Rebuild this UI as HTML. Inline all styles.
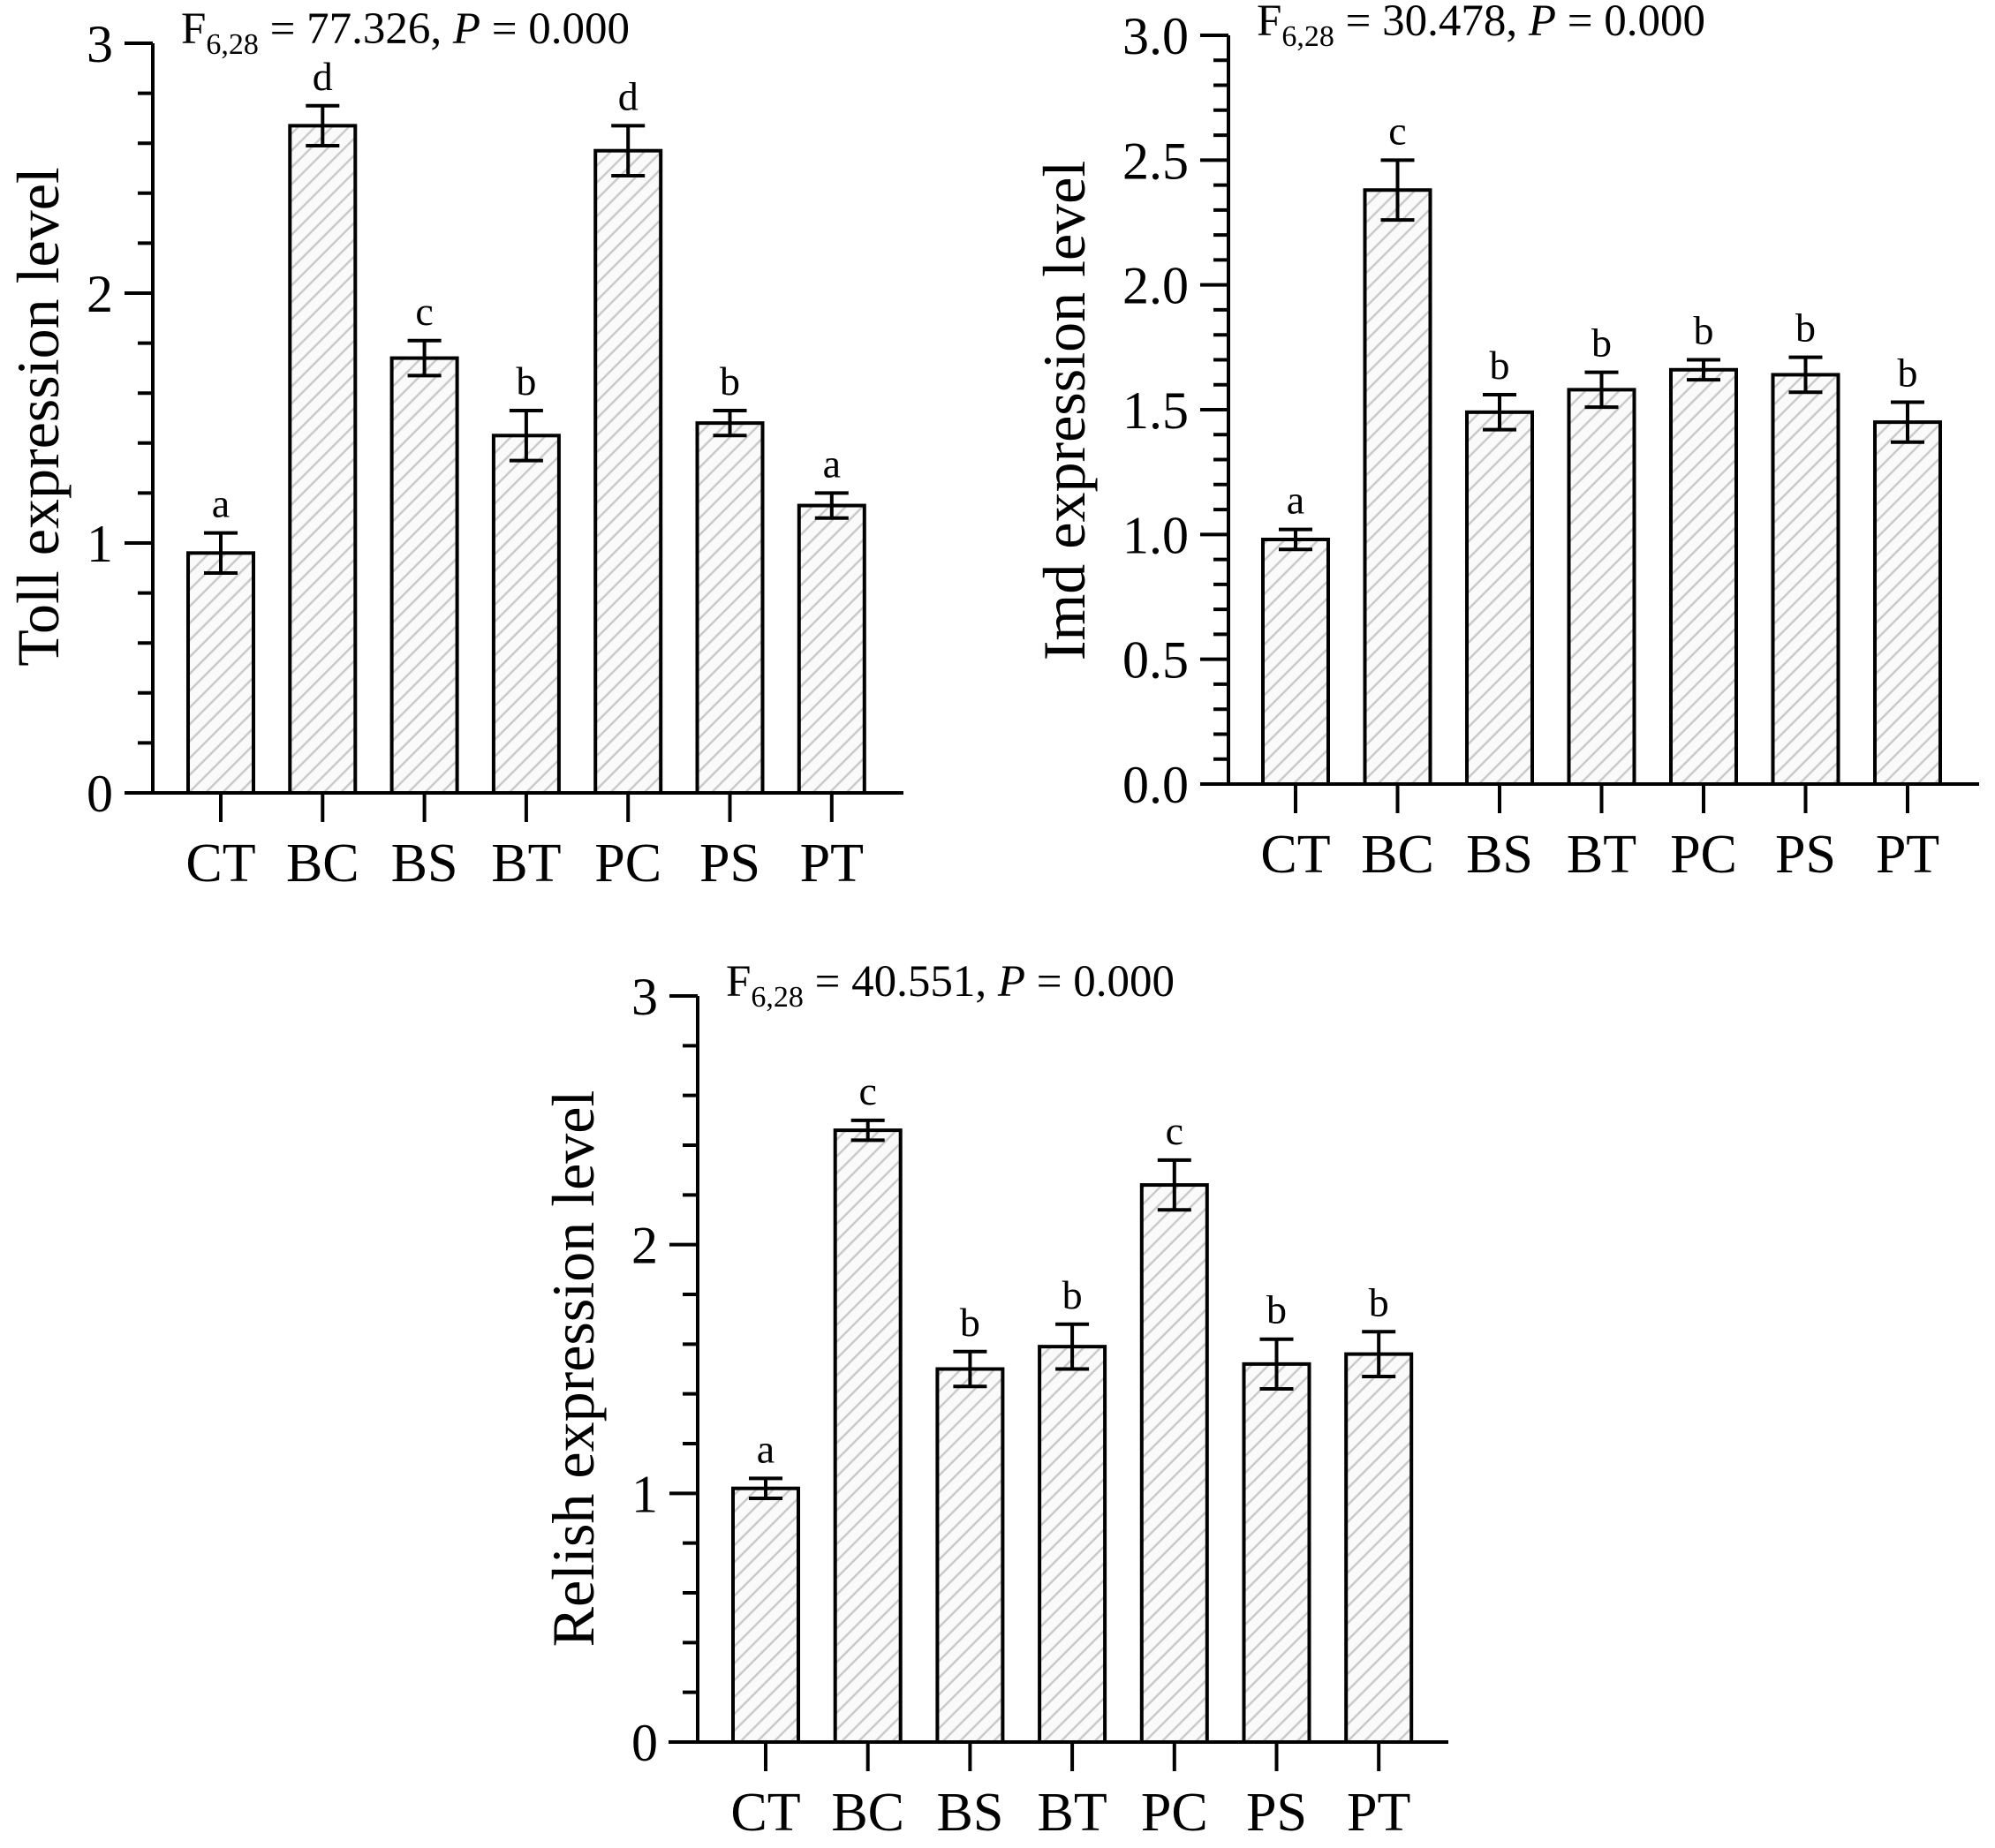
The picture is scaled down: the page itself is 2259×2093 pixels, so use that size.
<!DOCTYPE html>
<html><head><meta charset="utf-8"><style>
html,body{margin:0;padding:0;background:#fff}
svg{display:block;font-family:"Liberation Serif",serif}
</style></head><body>
<svg id="fig" width="2259" height="2093" viewBox="0 0 2259 2093" xmlns="http://www.w3.org/2000/svg">
<defs>
<pattern id="hatch" patternUnits="userSpaceOnUse" width="13.5" height="13.5" patternTransform="rotate(45)">
<rect width="13.5" height="13.5" fill="#fafafa"/>
<line x1="3" y1="0" x2="3" y2="13.5" stroke="#c8c8c8" stroke-width="2.4"/>
</pattern>
</defs>
</svg>
<script>
const categories = ["CT","BC","BS","BT","PC","PS","PT"];
const tollValues = [0.96,2.67,1.74,1.43,2.57,1.48,1.15];
const tollErrors = [0.08,0.08,0.07,0.10,0.10,0.05,0.05];
const tollLetters = ["a","d","c","b","d","b","a"];
const tollTicks = ["0","1","2","3"];
const imdValues = [0.98,2.38,1.49,1.58,1.66,1.64,1.45];
const imdErrors = [0.04,0.12,0.07,0.07,0.04,0.07,0.08];
const imdLetters = ["a","c","b","b","b","b","b"];
const imdTicks = ["0.0","0.5","1.0","1.5","2.0","2.5","3.0"];
const relValues = [1.02,2.46,1.50,1.59,2.24,1.52,1.56];
const relErrors = [0.04,0.04,0.07,0.09,0.10,0.10,0.09];
const relLetters = ["a","c","b","b","c","b","b"];
const relTicks = ["0","1","2","3"];

const NS="http://www.w3.org/2000/svg";
const svg=document.getElementById('fig');
function mk(tag,attrs,parent){const e=document.createElementNS(NS,tag);for(const k in attrs)e.setAttribute(k,attrs[k]);(parent||svg).appendChild(e);return e;}

function chart(cfg){
  const g=mk('g',{});
  
  
  const y=v=>cfg.y0-(v/cfg.ymax)*(cfg.y0-cfg.y3);
  const x=i=>cfg.cx0+i*cfg.step;
  cfg.values.forEach((v,i)=>{
    const r=mk('rect',{x:x(i)-37,y:y(v),width:74,height:cfg.y0-y(v),fill:'url(#hatch)',stroke:'#000','stroke-width':4},g);
    
    
    const e=cfg.errors[i];
    const eb=mk('path',{d:`M${x(i)},${y(v+e)}V${y(v-e)}M${x(i)-19},${y(v+e)}H${x(i)+19}M${x(i)-19},${y(v-e)}H${x(i)+19}`,stroke:'#000','stroke-width':4,fill:'none'},g);
    
    
    const t=mk('text',{x:x(i),y:y(v+e)-18,'text-anchor':'middle','font-size':46},g);
    t.textContent=cfg.letters[i];
    
    
    const tk=mk('line',{x1:x(i),x2:x(i),y1:cfg.y0,y2:cfg.y0+33,stroke:'#000','stroke-width':4},g);
    
    
    const lb=mk('text',{x:x(i),y:cfg.y0+100,'text-anchor':'middle','font-size':62},g);
    lb.textContent=categories[i];
    
    
  });
  const ax=mk('path',{d:`M${cfg.ax},${y(cfg.ymax)}V${cfg.y0}M${cfg.xs},${cfg.y0}H${cfg.xe}`,stroke:'#000','stroke-width':4,fill:'none'},g);
  
  
  const nMinor=Math.round(cfg.ymax/cfg.minor);
  for(let k=0;k<=nMinor;k++){
    const v=k*cfg.minor;
    const major=Math.abs(v/cfg.major-Math.round(v/cfg.major))<1e-6;
    const tk=mk('line',{x1:cfg.ax-(major?32:17),x2:cfg.ax,y1:y(v),y2:y(v),stroke:'#000','stroke-width':4},g);
    
    
  }
  cfg.ticks.forEach((s,k)=>{
    const t=mk('text',{x:cfg.ax-45,y:y(k*cfg.major)+21,'text-anchor':'end','font-size':60},g);
    t.textContent=s;
    
    
  });
  const tt=mk('text',{x:0,y:0,'text-anchor':'middle','font-size':68,transform:`translate(${cfg.tx},${cfg.ty}) rotate(-90)`},g);
  tt.textContent=cfg.title;
  
  
  const an=mk('text',{x:cfg.ax+32,y:cfg.y3,'font-size':51},g);
  
  
  an.innerHTML=`F<tspan font-size="34" dy="12">6,28</tspan><tspan dy="-12"> = ${cfg.stat}, </tspan><tspan font-style="italic">P</tspan> = 0.000`;
}

chart({name:'toll-chart',values:tollValues,errors:tollErrors,letters:tollLetters,ticks:tollTicks,ymax:3,major:1,minor:0.2,
  y0:898,y3:49,ax:173,xs:142,xe:1023,cx0:250,step:115.3,tx:66,ty:472,title:'Toll expression level',stat:'77.326'});
chart({name:'imd-chart',values:imdValues,errors:imdErrors,letters:imdLetters,ticks:imdTicks,ymax:3,major:0.5,minor:0.1,
  y0:888,y3:40,ax:1391,xs:1359,xe:2241,cx0:1467,step:115.5,tx:1228,ty:465,title:'Imd expression level',stat:'30.478'});
chart({name:'relish-chart',values:relValues,errors:relErrors,letters:relLetters,ticks:relTicks,ymax:3,major:1,minor:0.2,
  y0:1973,y3:1128,ax:790,xs:757,xe:1640,cx0:867,step:115.7,tx:672,ty:1550,title:'Relish expression level',stat:'40.551'});
</script>
</body></html>
